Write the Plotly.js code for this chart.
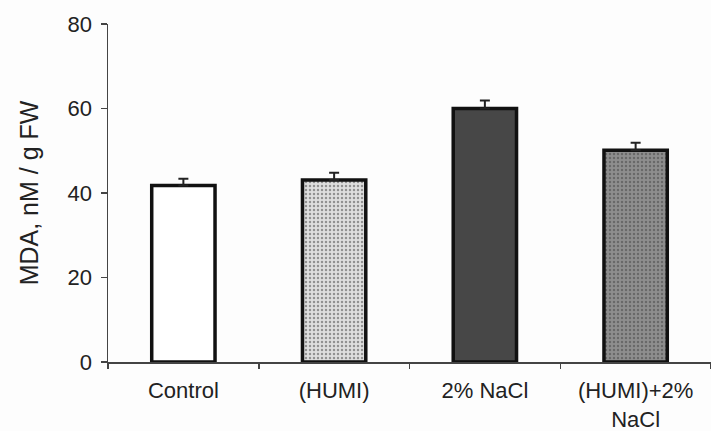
<!DOCTYPE html>
<html><head><meta charset="utf-8">
<script src="https://cdn.plot.ly/plotly-3.0.1.min.js"></script>
<style>html,body{margin:0;padding:0;background:#fff}</style>
</head><body>
<div id="chart" style="width:711px;height:431px"></div>
<script>
var categories = ["Control", "(HUMI)", "2% NaCl", "(HUMI)+2%<br>NaCl"];
var mdaValues = [41.8, 43.1, 60.0, 50.1];
var mdaErrors = [1.6, 1.7, 1.9, 1.8];
var fillColors = ["#ffffff", "#dedede", "#474747", "#8e8e8e"];
var patternShapes = ["", ".", "", "."];
var patternFg = ["#ffffff", "#a8a8a8", "#474747", "#2a2a2a"];

var trace = {
  type: "bar",
  x: categories,
  y: mdaValues,
  width: 0.42,
  marker: {
    color: fillColors,
    line: {color: "#111", width: 3.5},
    pattern: {shape: patternShapes, fgcolor: patternFg, fillmode: "overlay", size: 4, solidity: 0.3}
  },
  error_y: {type: "data", symmetric: false, array: mdaErrors, arrayminus: [0,0,0,0],
            color: "#222", thickness: 2, width: 5}
};

var layout = {
  width: 711, height: 431,
  margin: {l: 108, r: 0, t: 24, b: 69},
  paper_bgcolor: "#fdfdfd", plot_bgcolor: "#fdfdfd",
  showlegend: false,
  font: {family: "Liberation Sans, Arial, sans-serif", color: "#222", size: 22},
  xaxis: {
    range: [-0.5, 3.5], showline: true, linecolor: "#444", linewidth: 1.5,
    ticks: "outside", tickson: "boundaries", ticklen: 5, tickcolor: "#444", tickwidth: 1.5,
    showgrid: false, zeroline: false, tickfont: {size: 22}, ticklabelstandoff: 8, fixedrange: true
  },
  yaxis: {
    range: [0, 80], dtick: 20, showline: true, linecolor: "#444", linewidth: 1.5,
    ticks: "outside", ticklen: 6, tickcolor: "#444", tickwidth: 1.5,
    showgrid: false, zeroline: false, tickfont: {size: 22}, ticklabelstandoff: 4,
    title: {text: "MDA, nM / g FW", font: {size: 25}, standoff: 22}
  }
};

Plotly.newPlot("chart", [trace], layout, {staticPlot: true});
</script>
</body></html>
